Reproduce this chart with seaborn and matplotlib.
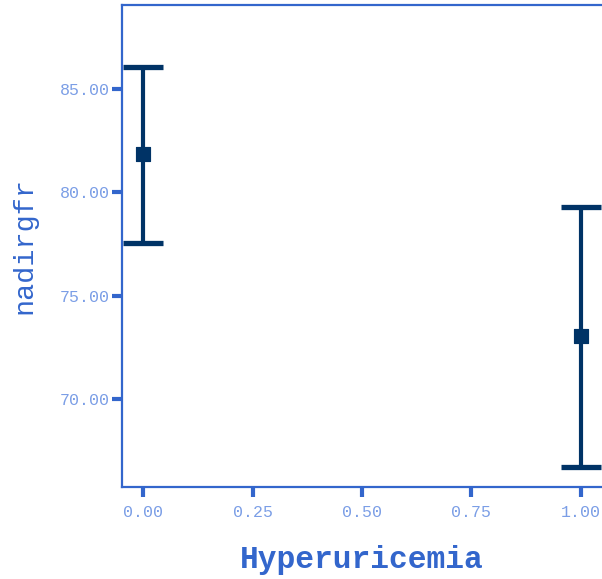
import pandas as pd
import seaborn as sns
import matplotlib.pyplot as plt

# values
groups = [0, 1]
means = [81.86, 73.06]
upper = [86.06, 79.27]
lower = [77.55, 66.71]

df = pd.DataFrame({'Hyperuricemia': groups, 'nadirgfr': means})
err_lo = [m - l for m, l in zip(means, lower)]
err_hi = [u - m for u, m in zip(upper, means)]

sns.set_style('white')
plt.rcParams['font.family'] = ['Liberation Mono', 'DejaVu Sans Mono']

axis_col = '#3366cc'
tick_col = '#7b9ee6'
bar_col = '#003366'

fig = plt.figure(figsize=(6.02, 5.79), dpi=100)
ax = fig.add_axes([122 / 602, 1 - 487 / 579, 1 - 122 / 602, (487 - 5) / 579])

ax.errorbar(df['Hyperuricemia'], df['nadirgfr'], yerr=[err_lo, err_hi],
            fmt='none', ecolor=bar_col, elinewidth=3.0, capsize=14.4, capthick=3.8, zorder=2)
sns.scatterplot(data=df, x='Hyperuricemia', y='nadirgfr', marker='s', s=110,
                color=bar_col, edgecolor=bar_col, ax=ax, zorder=3)

ax.set_xlim(-0.048, 1.048)
ax.set_ylim(65.74, 89.06)
ax.set_xticks([0, 0.25, 0.5, 0.75, 1.0])
ax.set_yticks([70, 75, 80, 85])
ax.xaxis.set_major_formatter(plt.FormatStrFormatter('%.2f'))
ax.yaxis.set_major_formatter(plt.FormatStrFormatter('%.2f'))

for side in ['left', 'top', 'bottom']:
    ax.spines[side].set_color(axis_col)
    ax.spines[side].set_linewidth(1.6)
ax.spines['right'].set_visible(False)

ax.tick_params(axis='both', direction='out', length=7, width=3, color=axis_col,
               labelcolor=tick_col, labelsize=12, pad=6, bottom=True, left=True)
ax.tick_params(axis='y', pad=2)

ax.set_xlabel('Hyperuricemia', fontsize=22.5, fontweight='bold', color=axis_col, labelpad=18)
ax.set_ylabel('nadirgfr', fontsize=20.5, color=axis_col, labelpad=16)

plt.savefig('out.png', dpi=100)
